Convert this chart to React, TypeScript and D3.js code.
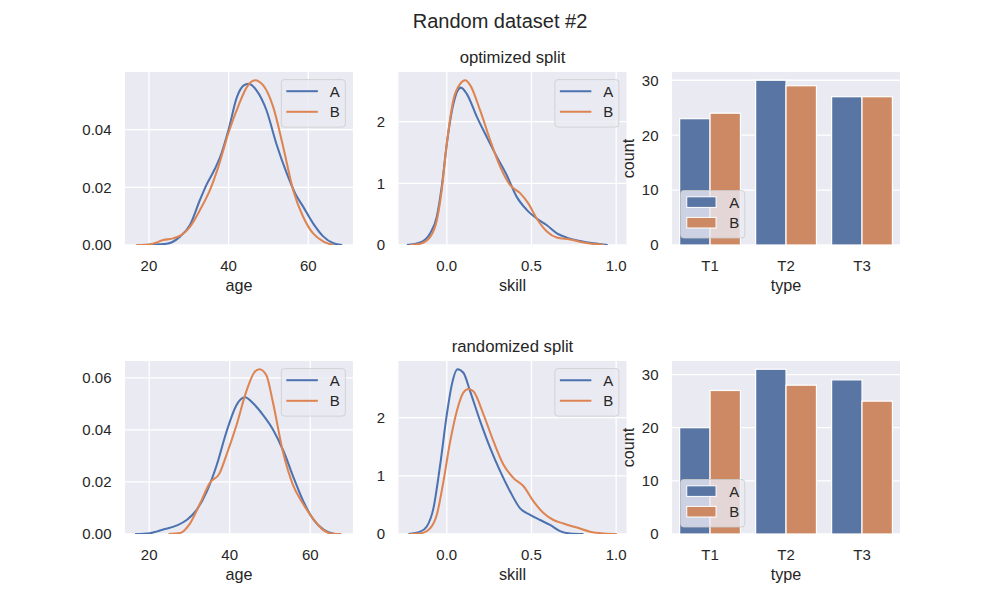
import React from "react";
import * as d3 from "d3";

const FONT = "'Liberation Sans', Arial, 'DejaVu Sans', sans-serif";
const TEXT = "#262626";
const BG = "#eaeaf2";
const LINE_COLORS = ["#4c72b0", "#dd8452"];
const BAR_COLORS = ["#5875a4", "#cc8963"];

const suptitle = "Random dataset #2";
const rowTitles = ["optimized split", "randomized split"];
const groups = ["A", "B"];
const types = ["T1", "T2", "T3"];

const countsOptA = [23, 30, 27];
const countsOptB = [24, 29, 27];
const countsRandA = [20, 31, 29];
const countsRandB = [27, 28, 25];

type P = [number, number];

const ageOptA: P[] = [[16.9, 0], [20, 0.0001], [24.4, 0.0004], [27.8, 0.0029], [30.3, 0.0069], [32.8, 0.0156], [34.5, 0.021], [36.6, 0.0265], [38.2, 0.0317], [40, 0.04], [42.1, 0.0513], [43.8, 0.0553], [45, 0.0559], [47, 0.0536], [49.5, 0.0467], [52, 0.035], [54.6, 0.0248], [56.7, 0.0179], [58.7, 0.0133], [61.2, 0.0075], [63.8, 0.0029], [66.3, 0.0006], [68.5, 0]];
const ageOptB: P[] = [[16.9, 0], [20.2, 0.0002], [23.6, 0.0017], [26.1, 0.0023], [28.2, 0.0035], [30.3, 0.0063], [32.8, 0.0121], [35.3, 0.019], [37.4, 0.027], [40, 0.039], [42.5, 0.0484], [44.6, 0.0548], [46.6, 0.0571], [48.7, 0.0553], [51.2, 0.0478], [53.7, 0.034], [56.2, 0.019], [58.7, 0.0098], [61.2, 0.004], [63.8, 0.0012], [66.3, 0]];
const skillOptA: P[] = [[-0.236, 0], [-0.157, 0.04], [-0.098, 0.19], [-0.059, 0.46], [-0.03, 0.94], [0, 1.64], [0.039, 2.29], [0.083, 2.55], [0.118, 2.45], [0.177, 2.08], [0.236, 1.75], [0.295, 1.43], [0.354, 1.13], [0.413, 0.78], [0.472, 0.57], [0.531, 0.43], [0.591, 0.32], [0.65, 0.19], [0.709, 0.12], [0.787, 0.065], [0.866, 0.027], [0.95, 0]];
const skillOptB: P[] = [[-0.217, 0], [-0.157, 0.02], [-0.098, 0.13], [-0.059, 0.4], [-0.03, 0.89], [0, 1.64], [0.039, 2.35], [0.079, 2.61], [0.108, 2.67], [0.138, 2.59], [0.197, 2.18], [0.256, 1.7], [0.315, 1.27], [0.374, 0.97], [0.433, 0.84], [0.482, 0.67], [0.531, 0.43], [0.591, 0.22], [0.65, 0.12], [0.728, 0.09], [0.807, 0.04], [0.886, 0.01], [0.93, 0]];
const ageRandA: P[] = [[16.5, 0], [20.2, 0.0003], [23.5, 0.0017], [26.9, 0.0033], [29.4, 0.0055], [31.8, 0.0093], [34.3, 0.0163], [36.8, 0.0266], [39.2, 0.0393], [41.7, 0.0496], [43.8, 0.0525], [45.8, 0.0502], [48.3, 0.0457], [50.8, 0.04], [53.4, 0.0317], [55.9, 0.0215], [58.3, 0.0125], [60.8, 0.0055], [63.3, 0.0017], [65.8, 0.0001], [67, 0]];
const ageRandB: P[] = [[24.8, 0], [27.7, 0.0004], [30.2, 0.0042], [32.7, 0.0119], [35, 0.0195], [37.5, 0.0234], [39.2, 0.0304], [41.7, 0.0419], [44.1, 0.0547], [46.2, 0.0623], [47.4, 0.0633], [49.1, 0.061], [50.7, 0.0508], [53.2, 0.0317], [55.7, 0.0189], [58.1, 0.0119], [60.6, 0.0061], [63.1, 0.0017], [65.6, 0.0001], [67.7, 0]];
const skillRandA: P[] = [[-0.226, 0], [-0.157, 0.04], [-0.118, 0.13], [-0.079, 0.44], [-0.039, 1.19], [0, 2.05], [0.03, 2.57], [0.063, 2.83], [0.098, 2.77], [0.138, 2.45], [0.197, 1.94], [0.256, 1.48], [0.315, 1.08], [0.374, 0.73], [0.433, 0.44], [0.492, 0.33], [0.551, 0.24], [0.61, 0.155], [0.669, 0.05], [0.728, 0.01], [0.807, 0]];
const skillRandB: P[] = [[-0.217, 0], [-0.157, 0.01], [-0.098, 0.1], [-0.059, 0.33], [-0.02, 0.9], [0.02, 1.59], [0.059, 2.11], [0.098, 2.43], [0.128, 2.49], [0.157, 2.45], [0.217, 2.05], [0.276, 1.59], [0.335, 1.19], [0.394, 0.96], [0.453, 0.82], [0.512, 0.56], [0.571, 0.36], [0.63, 0.24], [0.689, 0.18], [0.768, 0.11], [0.846, 0.04], [0.925, 0.01], [1.004, 0]];

const ageDomainOpt = [14.0, 71.2];
const ageDomainRand = [14.0, 70.6];
const skillDomain = [-0.285, 1.061];
const ageTicks = [20, 40, 60];
const skillTicks = [0, 0.5, 1.0];
const ageYTicksOpt = [0, 0.02, 0.04];
const ageYTicksRand = [0, 0.02, 0.04, 0.06];
const skillYTicks = [0, 1, 2];
const countTicks = [0, 10, 20, 30];

// layout
const W = 1000, H = 600;
const axW = 775 / 3.4;
const colX = [125, 125 + axW * 1.2, 125 + axW * 2.4];
const rowY = [72, 361];
const axH = 173;

const TICK = 15;
const LABEL = 16.2;
const TITLE = 16.7;

function Legend({ x, y, kind, colors }: { x: number; y: number; kind: "line" | "bar"; colors: string[] }) {
  const bw = 64, bh = 47.5;
  return (
    <g transform={`translate(${x},${y})`}>
      <rect x={0} y={0} width={bw} height={bh} rx={3} fill={BG} fillOpacity={0.8} stroke="#cccccc" strokeOpacity={0.8} strokeWidth={1} />
      {groups.map((g, i) => {
        const cy = 11.6 + i * 20.6;
        return (
          <g key={g}>
            {kind === "line" ? (
              <line x1={5} x2={36.5} y1={cy} y2={cy} stroke={colors[i]} strokeWidth={2} />
            ) : (
              <rect x={6} y={cy - 5.3} width={29.3} height={10.6} fill={colors[i]} stroke="white" strokeWidth={1} />
            )}
            <text x={48.5} y={cy} dy="0.36em" fontSize={TICK} fill={TEXT}>{g}</text>
          </g>
        );
      })}
    </g>
  );
}

function KdePanel({ x0, y0, curves, xDomain, xTicks, yTicks, xFmt, yFmt, xLabel, title }: any) {
  const x = d3.scaleLinear().domain(xDomain).range([x0, x0 + axW]);
  const ymax = (d3.max(curves.flat(), (d: P) => d[1]) as number) * 1.05;
  const y = d3.scaleLinear().domain([0, ymax]).range([y0 + axH, y0]);
  const line = d3.line<P>().x((d) => x(d[0])).y((d) => y(d[1])).curve(d3.curveMonotoneX);
  const fx = d3.format(xFmt), fy = d3.format(yFmt);
  const clipId = `clip-${Math.round(x0)}-${y0}`;
  return (
    <g>
      <rect x={x0} y={y0} width={axW} height={axH} fill={BG} />
      <clipPath id={clipId}><rect x={x0} y={y0} width={axW} height={axH} /></clipPath>
      {xTicks.map((t: number) => (
        <line key={"gx" + t} x1={x(t)} x2={x(t)} y1={y0} y2={y0 + axH} stroke="white" strokeWidth={1.3} />
      ))}
      {yTicks.map((t: number) => (
        <line key={"gy" + t} x1={x0} x2={x0 + axW} y1={y(t)} y2={y(t)} stroke="white" strokeWidth={1.3} />
      ))}
      <g clipPath={`url(#${clipId})`}>
        {curves.map((c: P[], i: number) => (
          <path key={i} d={line(c) || ""} fill="none" stroke={LINE_COLORS[i]} strokeWidth={2.05} />
        ))}
      </g>
      {xTicks.map((t: number) => (
        <text key={"tx" + t} x={x(t)} y={y0 + axH + 26} textAnchor="middle" fontSize={TICK} fill={TEXT}>{fx(t)}</text>
      ))}
      {yTicks.map((t: number) => (
        <text key={"ty" + t} x={x0 - 13.5} y={y(t)} dy="0.36em" textAnchor="end" fontSize={TICK} fill={TEXT}>{fy(t)}</text>
      ))}
      <text x={x0 + axW / 2} y={y0 + axH + 46} textAnchor="middle" fontSize={LABEL} fill={TEXT}>{xLabel}</text>
      {title && (
        <text x={x0 + axW / 2} y={y0 - 9.3} textAnchor="middle" fontSize={TITLE} fill={TEXT}>{title}</text>
      )}
      <Legend x={x0 + axW - 7.6 - 64} y={y0 + 7.6} kind="line" colors={LINE_COLORS} />
    </g>
  );
}

function BarPanel({ x0, y0, series, yTicks }: any) {
  const x = d3.scaleBand().domain(types).range([x0, x0 + axW]).paddingInner(0.2).paddingOuter(0.1);
  const sub = d3.scaleBand().domain(groups).range([0, x.bandwidth()]);
  const ymax = (d3.max(series.flat()) as number) * 1.05;
  const y = d3.scaleLinear().domain([0, ymax]).range([y0 + axH, y0]);
  return (
    <g>
      <rect x={x0} y={y0} width={axW} height={axH} fill={BG} />
      {yTicks.map((t: number) => (
        <line key={"gy" + t} x1={x0} x2={x0 + axW} y1={y(t)} y2={y(t)} stroke="white" strokeWidth={1.3} />
      ))}
      {series.map((vals: number[], gi: number) =>
        vals.map((v, ti) => (
          <rect key={gi + "-" + ti} x={(x(types[ti]) as number) + (sub(groups[gi]) as number)} y={y(v)}
            width={sub.bandwidth()} height={y(0) - y(v)} fill={BAR_COLORS[gi]} stroke="white" strokeWidth={1.2} />
        ))
      )}
      {types.map((t) => (
        <text key={t} x={(x(t) as number) + x.bandwidth() / 2} y={y0 + axH + 26} textAnchor="middle" fontSize={TICK} fill={TEXT}>{t}</text>
      ))}
      {yTicks.map((t: number) => (
        <text key={"ty" + t} x={x0 - 13.5} y={y(t)} dy="0.36em" textAnchor="end" fontSize={TICK} fill={TEXT}>{t}</text>
      ))}
      <text x={x0 + axW / 2} y={y0 + axH + 46} textAnchor="middle" fontSize={LABEL} fill={TEXT}>type</text>
      <text transform={`translate(${x0 - 38},${y0 + axH / 2}) rotate(-90)`} textAnchor="middle" fontSize={LABEL} fill={TEXT}>count</text>
      <Legend x={x0 + 8.7} y={y0 + axH - 7 - 47.5} kind="bar" colors={BAR_COLORS} />
    </g>
  );
}

export default function App() {
  return (
    <div style={{ position: "absolute", left: 0, top: 0 }}>
      <svg width={W} height={H} style={{ display: "block", background: "white", fontFamily: FONT }}>
        <text x={W / 2} y={28.3} textAnchor="middle" fontSize={20} fill={TEXT}>{suptitle}</text>
        <KdePanel x0={colX[0]} y0={rowY[0]} curves={[ageOptA, ageOptB]} xDomain={ageDomainOpt} xTicks={ageTicks} yTicks={ageYTicksOpt} xFmt=".0f" yFmt=".2f" xLabel="age" />
        <KdePanel x0={colX[1]} y0={rowY[0]} curves={[skillOptA, skillOptB]} xDomain={skillDomain} xTicks={skillTicks} yTicks={skillYTicks} xFmt=".1f" yFmt=".0f" xLabel="skill" title={rowTitles[0]} />
        <BarPanel x0={colX[2]} y0={rowY[0]} series={[countsOptA, countsOptB]} yTicks={countTicks} />
        <KdePanel x0={colX[0]} y0={rowY[1]} curves={[ageRandA, ageRandB]} xDomain={ageDomainRand} xTicks={ageTicks} yTicks={ageYTicksRand} xFmt=".0f" yFmt=".2f" xLabel="age" />
        <KdePanel x0={colX[1]} y0={rowY[1]} curves={[skillRandA, skillRandB]} xDomain={skillDomain} xTicks={skillTicks} yTicks={skillYTicks} xFmt=".1f" yFmt=".0f" xLabel="skill" title={rowTitles[1]} />
        <BarPanel x0={colX[2]} y0={rowY[1]} series={[countsRandA, countsRandB]} yTicks={countTicks} />
      </svg>
    </div>
  );
}
